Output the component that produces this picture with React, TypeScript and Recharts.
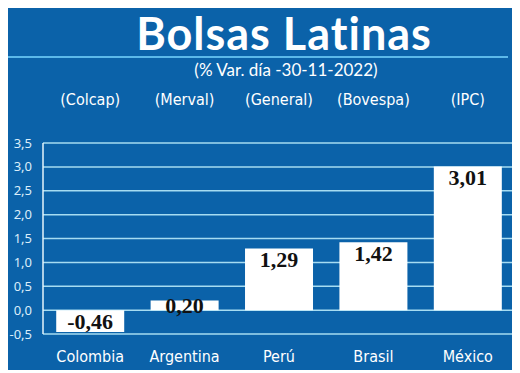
import React from 'react';
import {
  BarChart,
  Bar,
  XAxis,
  YAxis,
  CartesianGrid,
  LabelList,
} from 'recharts';

const countries = ['Colombia', 'Argentina', 'Perú', 'Brasil', 'México'];
const indices = ['(Colcap)', '(Merval)', '(General)', '(Bovespa)', '(IPC)'];
const changes = [-0.46, 0.2, 1.29, 1.42, 3.01];
const yTicks = [-0.5, 0, 0.5, 1, 1.5, 2, 2.5, 3, 3.5];

const data = countries.map((country, i) => ({
  country,
  index: indices[i],
  value: changes[i],
}));

const BLUE = '#0b62a9';
const GRID = '#a6dcf2';
const narrow = '"DejaVu Sans Condensed", "DejaVu Sans", sans-serif';

const fmt = (v: number, d: number) => v.toFixed(d).replace('.', ',');

function ValueLabel(props: any) {
  const { x, y, width, height, value } = props;
  const h = Math.abs(height);
  const top = height < 0 ? y + height : y;
  const cy = top + Math.min(h / 2, 11);
  return (
    <text
      x={x + width / 2}
      y={cy}
      dy="0.36em"
      textAnchor="middle"
      fill="#111"
      fontFamily='"Liberation Serif", "DejaVu Serif", serif'
      fontWeight="bold"
      fontSize={22}
    >
      {fmt(value, 2)}
    </text>
  );
}

function TopTick(props: any) {
  const { x, y, payload } = props;
  return (
    <text x={x} y={y - 30} textAnchor="middle" fill="#fff" fontFamily={narrow} fontStretch="condensed" fontSize={16}>
      {indices[payload.index] ?? payload.value}
    </text>
  );
}

function BottomTick(props: any) {
  const { x, y, payload } = props;
  return (
    <text x={x} y={y + 14} dy="0.36em" textAnchor="middle" fill="#fff" fontFamily={narrow} fontStretch="condensed" fontSize={16}>
      {payload.value}
    </text>
  );
}

export default function App() {
  return (
    <div style={{ position: 'relative', width: 507, height: 364, marginTop: -2, background: BLUE }}>
      <div
        style={{
          position: 'absolute',
          left: 0,
          width: 552,
          top: 7,
          textAlign: 'center',
          color: '#fff',
          fontFamily: 'Lato, sans-serif',
          fontWeight: 'bold',
          fontSize: 45,
          letterSpacing: 1,
          lineHeight: '40px',
        }}
      >
        Bolsas Latinas
      </div>
      <div style={{ position: 'absolute', left: 0, width: 500, top: 50, height: 2, background: '#5cb9ea' }} />
      <div
        style={{
          position: 'absolute',
          left: 0,
          width: 556,
          top: 55,
          textAlign: 'center',
          color: '#fff',
          fontFamily: 'Lato, sans-serif',
          fontSize: 17,
          lineHeight: '18px',
        }}
      >
        (% Var. día -30-11-2022)
      </div>
      <BarChart
        width={507}
        height={364}
        data={data}
        margin={{ top: 136, right: 0, bottom: 6, left: 0 }}
        barCategoryGap="14%"
      >
        <CartesianGrid vertical={false} stroke={GRID} strokeWidth={1.5} />
        <XAxis xAxisId="top" orientation="top" dataKey="country" axisLine={false} tickLine={false} tick={<TopTick />} height={1} />
        <XAxis dataKey="country" axisLine={false} tickLine={false} tick={<BottomTick />} height={30} />
        <YAxis
          width={35}
          domain={[-0.5, 3.5]}
          ticks={yTicks}
          interval={0}
          tickFormatter={(v: number) => fmt(v, 1)}
          axisLine={{ stroke: '#e6f4fb', strokeWidth: 1.5 }}
          tickLine={false}
          tickMargin={5}
          tick={{ fill: '#dceefa', fontSize: 13, fontFamily: '"Noto Sans", sans-serif' }}
        />
        <Bar dataKey="value" fill="#fff" isAnimationActive={false}>
          <LabelList dataKey="value" content={<ValueLabel />} />
        </Bar>
      </BarChart>
    </div>
  );
}
